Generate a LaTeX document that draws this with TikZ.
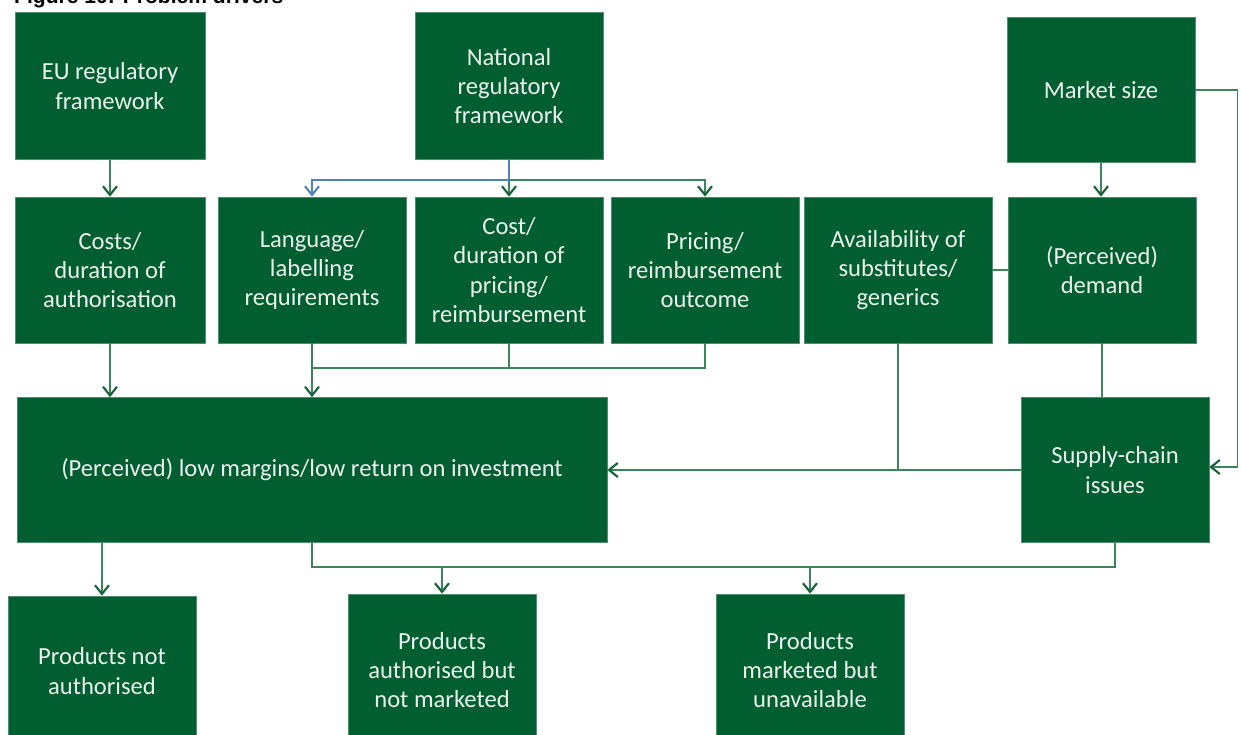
\documentclass[tikz,border=0pt]{standalone}
\usepackage{fontspec}
\setmainfont{Carlito}
\newfontfamily\titlefont{Liberation Sans}
\usetikzlibrary{arrows.meta}
\definecolor{boxgreen}{RGB}{0,94,49}
\definecolor{linegreen}{RGB}{60,132,90}
\definecolor{tipgreen}{RGB}{20,100,55}
\definecolor{linkblue}{RGB}{79,129,189}
\definecolor{boxtext}{RGB}{236,242,236}
\begin{document}
\begin{tikzpicture}[x=0.02cm, y=-0.02cm,
    box/.style={fill=boxgreen, draw=boxgreen!70!white, line width=0.4pt, text=boxtext,
        minimum width=188*0.02cm, minimum height=146*0.02cm, align=center,
        font=\fontsize{14}{16.6}\selectfont, inner sep=2pt},
    link/.style={draw=linegreen, line width=0.8pt},
    arr/.style={link, -{Straight Barb[length=5pt, width=8pt, line width=1.2pt, color=tipgreen]}},
    bluearr/.style={arr, draw=linkblue, -{Straight Barb[length=5pt, width=8pt, line width=1.2pt, color=linkblue]}}]
    \useasboundingbox (0,0) rectangle (1241,734);
    \node [anchor=base west, font=\titlefont\bfseries\fontsize{12}{14}\selectfont] (title) at (8,3) {Figure 10: Problem drivers};
    % top row
    \node [box, minimum width=190*0.02cm, minimum height=147*0.02cm] (eu) at (110,86) {EU regulatory\\framework};
    \node [box, minimum height=147*0.02cm] (nat) at (509,86) {National\\regulatory\\framework};
    \node [box, minimum height=145*0.02cm] (mkt) at (1101,90) {Market size};
    % second row
    \node [box, minimum width=190*0.02cm] (cauth) at (110,270) {Costs/\\duration of\\authorisation};
    \node [box] (lang) at (312,270) {Language/\\labelling\\requirements};
    \node [box] (cprice) at (509,270) {Cost/\\duration of\\pricing/\\reimbursement};
    \node [box] (outc) at (705,270) {Pricing/\\reimbursement\\outcome};
    \node [box] (avail) at (898,270) {Availability of\\substitutes/\\generics};
    \node [box] (demand) at (1102,270) {(Perceived)\\demand};
    % third row
    \node [box, minimum width=590*0.02cm, minimum height=145*0.02cm] (margin) at (312,470) {(Perceived) low margins/low return on investment};
    \node [box, minimum height=145*0.02cm] (supply) at (1115,470) {Supply-chain\\issues};
    % outcomes
    \node [box, minimum height=150*0.02cm] (notauth) at (102,671) {Products not\\authorised};
    \node [box, minimum height=152*0.02cm] (notmkt) at (442,670) {Products\\authorised but\\not marketed};
    \node [box, minimum height=152*0.02cm] (unavail) at (810,670) {Products\\marketed but\\unavailable};
    % links
    \coordinate (j1) at (312,368);
    \coordinate (j2) at (312,567);
    \draw [arr] (eu) -- (cauth);
    \draw [arr] (nat.south) -- ++(0,20) -| (outc.north);
    \draw [arr] (nat) -- (cprice);
    \draw [bluearr] (nat.south) -- ++(0,20) -| (lang.north);
    \draw [arr] (mkt) -- (mkt |- demand.north);
    \draw [arr] (mkt.east) -- ++(42,0) |- ([yshift=0.06cm]supply.east);
    \draw [arr] (cauth) -- (cauth |- margin.north);
    \draw [link] (outc.south) |- (j1);
    \draw [link] (cprice.south) |- (j1);
    \draw [arr] (lang) -- (margin);
    \draw [link] (avail.east) -- (demand.west);
    \draw [link] (avail.south) -- (avail.south |- margin.east);
    \draw [arr] (supply) -- (margin);
    \draw [link] (demand.south) -- (demand.south |- supply.north);
    \draw [arr] (notauth.north |- margin.south) -- (notauth);
    \draw [link] (margin.south) -- (j2) -| (supply.south);
    \draw [arr] (notmkt.north |- j2) -- (notmkt);
    \draw [arr] (unavail.north |- j2) -- (unavail);
\end{tikzpicture}
\end{document}
